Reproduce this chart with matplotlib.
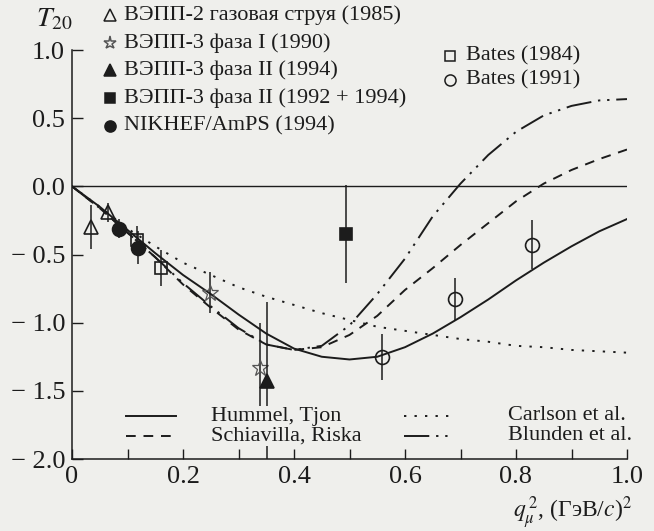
import matplotlib
matplotlib.use("Agg")
import matplotlib.pyplot as plt
from matplotlib.lines import Line2D

# ---- data ----
q_curve = [0.0, 0.05, 0.1, 0.15, 0.2, 0.25, 0.3, 0.35, 0.4, 0.45, 0.5,
           0.55, 0.6, 0.65, 0.7, 0.75, 0.8, 0.85, 0.9, 0.95, 1.0]
hummel = [0.0, -0.15, -0.32, -0.49, -0.65, -0.79, -0.94, -1.08, -1.19, -1.25, -1.27,
          -1.25, -1.18, -1.08, -0.96, -0.83, -0.69, -0.56, -0.44, -0.33, -0.24]
schiavilla = [0.0, -0.16, -0.34, -0.52, -0.72, -0.89, -1.05, -1.16, -1.20, -1.18, -1.09,
              -0.95, -0.76, -0.60, -0.43, -0.27, -0.11, 0.02, 0.12, 0.20, 0.27]
carlson = [0.0, -0.15, -0.31, -0.44, -0.56, -0.65, -0.74, -0.81, -0.87, -0.93, -0.98,
           -1.03, -1.06, -1.09, -1.12, -1.14, -1.17, -1.18, -1.20, -1.21, -1.22]
blunden = [0.0, -0.16, -0.34, -0.52, -0.71, -0.88, -1.04, -1.16, -1.20, -1.17, -1.02,
           -0.79, -0.53, -0.22, 0.02, 0.23, 0.40, 0.52, 0.59, 0.63, 0.64]

vepp2_x, vepp2_y, vepp2_err = [0.035, 0.065], [-0.30, -0.19], [0.16, 0.07]
vepp3a_x, vepp3a_y, vepp3a_err = [0.249, 0.338], [-0.78, -1.33], [0.15, 0.33]
vepp3b_x, vepp3b_y, vepp3b_err = [0.352], [-1.43], [0.58]
vepp3c_x, vepp3c_y, vepp3c_err = [0.493], [-0.35], [0.36]
nikhef_x, nikhef_y, nikhef_err = [0.085, 0.119], [-0.31, -0.45], [0.07, 0.12]
bates84_x, bates84_y, bates84_err = [0.118, 0.160], [-0.39, -0.60], [0.10, 0.13]
bates91_x, bates91_y, bates91_err = [0.558, 0.690, 0.828], [-1.25, -0.83, -0.43], [0.17, 0.16, 0.18]

x_ticks = [0.0, 0.1, 0.2, 0.3, 0.4, 0.5, 0.6, 0.7, 0.8, 0.9, 1.0]
x_labels = ["0", "", "0.2", "", "0.4", "", "0.6", "", "0.8", "", "1.0"]
y_ticks = [-2.0, -1.5, -1.0, -0.5, 0.0, 0.5, 1.0]
y_labels = ["\u2212 2.0", "\u2212 1.5", "\u2212 1.0", "\u2212 0.5", "0.0", "0.5", "1.0"]

point_labels = ["ВЭПП-2 газовая струя (1985)", "ВЭПП-3 фаза I (1990)",
                "ВЭПП-3 фаза II (1994)", "ВЭПП-3 фаза II (1992 + 1994)",
                "NIKHEF/AmPS (1994)"]
bates_labels = ["Bates (1984)", "Bates (1991)"]
curve_labels = ["Hummel, Tjon", "Schiavilla, Riska", "Carlson et al.", "Blunden et al."]

# ---- style ----
BG = "#efefec"
INK = "#1c1c1c"
plt.rcParams["font.family"] = ["Liberation Serif", "DejaVu Serif"]
plt.rcParams["mathtext.fontset"] = "stix"
plt.rcParams["text.color"] = INK

W, H = 654, 531
fig = plt.figure(figsize=(W / 100, H / 100), dpi=100, facecolor=BG)
ax = fig.add_axes([72 / W, 1 - 459 / H, (627 - 72) / W, (459 - 50) / H])
ax.set_facecolor(BG)


def fx(px):
    return px / W


def fy(py):
    return 1 - py / H


LW = 1.4
styles = {
    "hummel": dict(color=INK, lw=LW, linestyle="-"),
    "schiavilla": dict(color=INK, lw=LW, linestyle=(0, (5, 4))),
    "carlson": dict(color=INK, lw=LW, linestyle=(0, (1.2, 4.2))),
    "blunden": dict(color=INK, lw=LW, linestyle=(0, (13, 3.5, 1.2, 3.5, 1.2, 3.5))),
}

ax.axhline(0.0, color=INK, lw=1.0)
ax.plot(q_curve, carlson, **styles["carlson"])
ax.plot(q_curve, blunden, **styles["blunden"])
ax.plot(q_curve, schiavilla, **styles["schiavilla"])
ax.plot(q_curve, hummel, **styles["hummel"])

markers = [
    (vepp2_x, vepp2_y, vepp2_err, dict(marker="^", mfc="none", mec=INK, ms=10)),
    (vepp3a_x, vepp3a_y, vepp3a_err, dict(marker="*", mfc="none", mec="#555555", ms=12, mew=0.9)),
    (vepp3b_x, vepp3b_y, vepp3b_err, dict(marker="^", mfc=INK, mec=INK, ms=10)),
    (vepp3c_x, vepp3c_y, vepp3c_err, dict(marker="s", mfc=INK, mec=INK, ms=9)),
    (bates84_x, bates84_y, bates84_err, dict(marker="s", mfc="none", mec=INK, ms=9)),
    (nikhef_x, nikhef_y, nikhef_err, dict(marker="o", mfc=INK, mec=INK, ms=10)),
    (bates91_x, bates91_y, bates91_err, dict(marker="o", mfc="none", mec=INK, ms=10)),
]
for xs, ys, errs, mk in markers:
    ax.errorbar(xs, ys, yerr=errs, fmt="none", ecolor=INK, elinewidth=1.1, capsize=0)
    ax.plot(xs, ys, linestyle="none", mew=mk.pop("mew", 1.2), **mk)

ax.set_xlim(0, 1.0)
ax.set_ylim(-2.0, 1.0)
ax.set_xticks(x_ticks)
ax.set_xticklabels(x_labels)
ax.set_yticks(y_ticks)
ax.set_yticklabels(y_labels)
ax.tick_params(direction="in", length=7, width=1.0, colors=INK, labelsize=19, pad=5)
ax.tick_params(axis="y", length=8)
for side in ("top", "right"):
    ax.spines[side].set_visible(False)
for side in ("left", "bottom"):
    ax.spines[side].set_color(INK)
    ax.spines[side].set_linewidth(1.1)

fig.text(fx(36), fy(20), r"$T_{20}$", fontsize=20, va="center", ha="left")
fig.text(fx(632), fy(513), r"$q_{\mu}^{\,2}$, (ГэВ/$c$)$^2$", fontsize=17,
         ha="right", va="center")

# top-left legend (markers)
legend_marks = [markers[0][3], markers[1][3], markers[2][3], markers[3][3], markers[5][3]]
for i, (lab, mk) in enumerate(zip(point_labels, legend_marks)):
    yy = 15 + 27.7 * i
    fig.add_artist(Line2D([fx(110)], [fy(yy)], transform=fig.transFigure,
                          linestyle="none", mew=1.1, **dict(mk, ms=mk["ms"] * 0.8)))
    fig.text(fx(124), fy(yy), lab, fontsize=16, va="center", ha="left")

# Bates legend
for i, (lab, mk) in enumerate(zip(bates_labels, [markers[4][3], markers[6][3]])):
    yy = 56 + 24 * i
    fig.add_artist(Line2D([fx(450)], [fy(yy)], transform=fig.transFigure,
                          linestyle="none", mew=1.1, **dict(mk, ms=mk["ms"] * 0.8)))
    fig.text(fx(466), fy(yy), lab, fontsize=16, va="center", ha="left")

# bottom legend (curves)
curve_keys = ["hummel", "schiavilla", "carlson", "blunden"]
sample_x = [(126, 176), (126, 176), (404, 453), (404, 453)]
text_x = [211, 211, 508, 508]
row_y = [416, 436, 416, 436]
for key, lab, (x0, x1), tx, ry in zip(curve_keys, curve_labels, sample_x, text_x, row_y):
    fig.add_artist(Line2D([fx(x0), fx(x1)], [fy(ry), fy(ry)], transform=fig.transFigure,
                          **styles[key]))
    fig.text(fx(tx), fy(ry), lab, fontsize=16, va="center", ha="left",
             bbox=dict(facecolor=BG, edgecolor="none", pad=0.5))

fig.savefig("out.png", dpi=100, facecolor=BG)
